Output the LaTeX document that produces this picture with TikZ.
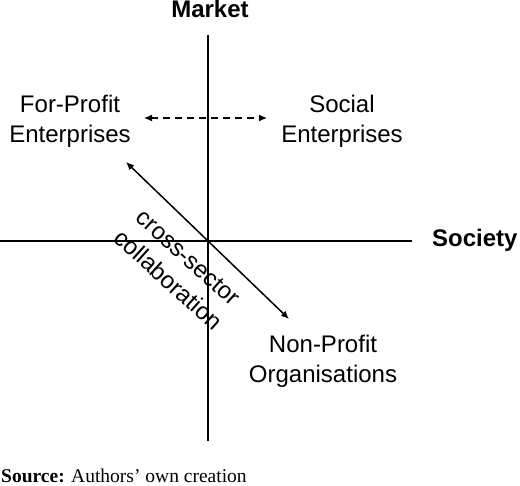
\documentclass[tikz,border=0pt]{standalone}
\usepackage{fontspec}
\setmainfont{Liberation Sans}
\newfontfamily\srcfont{Liberation Serif}
\usetikzlibrary{arrows.meta}

\begin{document}
\begin{tikzpicture}[x=1pt,y=-1pt,>={Latex[length=8pt,width=7pt]},
                axis/.style={line width=1.8pt},
                label node/.style={font=\fontsize{24}{30}\selectfont,align=center,inner sep=0pt},
                axis label/.style={font=\fontsize{24}{30}\selectfont\bfseries,inner sep=0pt,anchor=base}]
	\useasboundingbox (0,0) rectangle (520,486);
	% axes
	\coordinate (top) at (208,35);
	\coordinate (bottom) at (208,441);
	\coordinate (left) at (0,241);
	\coordinate (right) at (412,241);
	\coordinate (origin) at (208,241);
	\draw[axis] (top) -- (bottom);
	\draw[axis] (left) -- (right);

	\node[axis label] (market) at (210,18) {Market};
	\node[axis label,anchor=base west] (society) at (432,247) {Society};

	\node[label node] (forprofit) at (70,121) {For-Profit\\Enterprises};
	\node[label node] (social) at (342,121) {Social\\Enterprises};
	\node[label node] (nonprofit) at (323,361) {Non-Profit\\Organisations};

	% arrows between the quadrants
	\coordinate (dl) at (144,118);
	\coordinate (dr) at (267,118);
	\draw[<->,line width=1.3pt,dash pattern=on 7pt off 5pt] (dl) -- (dr);
	\coordinate (ul) at (126,162);
	\coordinate (lr) at (289,319);
	\draw[<->,line width=1.5pt] (ul) -- (lr);
	\node[label node,rotate=-42] (cross) at (178,269) {cross-sector\\collaboration};

	\node[anchor=base west,inner sep=0pt,font=\srcfont\fontsize{19.5}{22}\selectfont] (source) at (1,483) {\textbf{Source:} Authors’ own creation};
\end{tikzpicture}
\end{document}
